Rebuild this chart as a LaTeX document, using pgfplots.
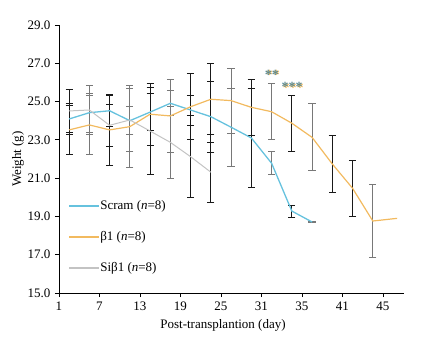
\documentclass[border=0pt]{standalone}
\usepackage{fontspec}
\setmainfont{Liberation Serif}
\usepackage{pgfplots}
\pgfplotsset{compat=1.18}
\usepackage{pgfplotstable}

\definecolor{scramcol}{RGB}{102,194,222}
\definecolor{betacol}{RGB}{242,186,95}
\definecolor{sibetacol}{RGB}{195,195,195}
\definecolor{bargray}{RGB}{120,120,120}
\definecolor{barblack}{RGB}{25,25,25}

% Scram (n=8)
\pgfplotstableread{
x y
0.25 24.09
0.75 24.42
1.25 24.52
1.75 24.00
2.25 24.45
2.75 24.91
3.25 24.56
3.75 24.21
4.25 23.66
4.75 23.10
5.25 21.78
5.75 19.28
6.25 18.71
}\scramdata

% beta1 (n=8)
\pgfplotstableread{
x y
0.25 23.52
0.75 23.78
1.25 23.52
1.75 23.69
2.25 24.34
2.75 24.25
3.25 24.73
3.75 25.12
4.25 25.05
4.75 24.70
5.25 24.47
5.75 23.87
6.25 23.13
6.75 21.74
7.25 20.47
7.75 18.76
8.35 18.90
}\betadata

% Sibeta1 (n=8)
\pgfplotstableread{
x y
0.25 24.51
0.75 24.56
1.25 23.76
1.75 24.04
2.25 23.46
2.75 22.87
3.25 22.12
3.75 21.31
}\sibetadata

% error bars drawn in black
\pgfplotstableread{
x y e
0.25 24.09 0.81
0.25 23.52 1.28
0.25 24.51 1.10
1.25 24.52 0.80
1.25 23.52 1.88
1.25 23.76 1.09
2.25 24.45 0.98
2.25 24.34 1.62
2.25 23.46 2.26
3.25 24.56 0.78
3.25 24.73 1.72
3.25 22.12 2.15
3.75 24.21 1.85
3.75 25.12 1.85
3.75 21.31 1.57
4.75 23.10 2.59
4.75 24.70 1.48
5.75 19.28 0.31
5.75 23.87 1.45
6.75 21.74 1.48
7.25 20.47 1.48
}\errblack

% error bars drawn in gray
\pgfplotstableread{
x y e
0.75 24.42 1.02
0.75 23.78 1.53
0.75 24.56 1.26
1.75 24.00 0.72
1.75 23.69 2.13
1.75 24.04 1.64
2.75 24.91 0.66
2.75 24.25 1.89
2.75 22.87 1.88
4.25 23.66 2.03
4.25 25.05 1.70
5.25 21.78 0.61
5.25 24.47 1.46
6.25 18.71 0.05
6.25 23.13 1.75
7.75 18.76 1.92
}\errgray

\begin{document}
\fontsize{13}{15}\selectfont
\begin{tikzpicture}
\useasboundingbox (0,0) rectangle (421pt,338pt);
\begin{axis}[
  scale only axis,
  width=345pt, height=268pt,
  at={(59pt,45pt)}, anchor=south west,
  xmin=0, xmax=8.52, ymin=15, ymax=29,
  axis x line*=bottom, axis y line*=left,
  axis line style={-, black, line width=0.8pt},
  xtick={0,1,...,8},
  xticklabels={1,7,13,19,25,31,35,41,45},
  ytick={15,17,...,29},
  yticklabel style={/pgf/number format/.cd, fixed, fixed zerofill, precision=1},
  /pgf/number format/assume math mode=true,
  tick align=outside,
  major tick length=4pt,
  tick style={black, line width=0.8pt},
  tick label style={font=\fontsize{13}{15}\selectfont, text=black},
  label style={font=\fontsize{13}{15}\selectfont},
  xlabel={Post-transplantion (day)},
  ylabel={Weight (g)},
  xlabel style={at={(axis description cs:0.4754,-0.1194)}, anchor=center},
  ylabel style={at={(axis description cs:-0.1188,0.5)}, anchor=center},
  legend image code/.code={\draw[#1, line width=1.4pt] (0pt,0pt) -- (30pt,0pt);},
  legend cell align=left,
  legend style={draw=none, fill=none,
    at={(axis description cs:0.018,0.209)}, anchor=west,
    row sep=20pt, column sep=0pt,
    nodes={inner sep=0pt, inner xsep=0.5pt, font=\fontsize{13}{15}\selectfont}},
]
\addplot[draw=none, forget plot,
  error bars/.cd, y dir=both, y explicit,
  error bar style={solid, color=barblack, line width=0.8pt},
  error mark options={rotate=90, mark size=3.6pt, line width=0.8pt, color=barblack}]
  table[x=x, y=y, y error=e] {\errblack};
\addplot[draw=none, forget plot,
  error bars/.cd, y dir=both, y explicit,
  error bar style={solid, color=bargray, line width=0.9pt},
  error mark options={rotate=90, mark size=3.6pt, line width=0.9pt, color=bargray}]
  table[x=x, y=y, y error=e] {\errgray};
\addplot[color=scramcol, line width=1.3pt, no markers] table[x=x, y=y] {\scramdata};
\addlegendentry{Scram (\textit{n}=8)}
\addplot[color=betacol, line width=1.2pt, no markers] table[x=x, y=y] {\betadata};
\addlegendentry{β1 (\textit{n}=8)}
\addplot[color=sibetacol, line width=1pt, no markers] table[x=x, y=y] {\sibetadata};
\addlegendentry{Siβ1 (\textit{n}=8)}

\node[font=\bfseries\fontsize{14}{14}\selectfont, text=betacol] at (axis cs:5.28,26.40) {**};
\node[font=\bfseries\fontsize{14}{14}\selectfont, text=scramcol!65!black, opacity=0.85] at (axis cs:5.26,26.42) {**};
\node[font=\bfseries\fontsize{14}{14}\selectfont, text=betacol] at (axis cs:5.78,25.73) {***};
\node[font=\bfseries\fontsize{14}{14}\selectfont, text=scramcol!65!black, opacity=0.85] at (axis cs:5.76,25.75) {***};
\end{axis}
\end{tikzpicture}
\end{document}
